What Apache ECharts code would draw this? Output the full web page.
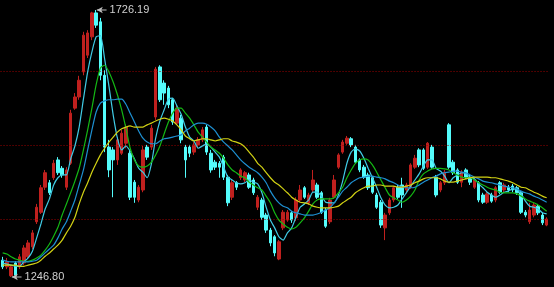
<!DOCTYPE html>
<html><head><meta charset="utf-8">
<script src="https://cdn.jsdelivr.net/npm/echarts@6/dist/echarts.min.js"></script>
<style>html,body{margin:0;padding:0;background:#000;}#c{width:554px;height:287px;}</style>
</head><body><div id="c"></div>
<script>
const openP  = [1277,1265,1249,1272,1265,1272,1283,1301,1346,1363,1408,1416,1425,1457,1442,1408,1451,1550,1570,1615,1645,1678,1721,1705,1609,1480,1475,1457,1469,1487,1469,1417,1385,1403,1480,1480,1534,1624,1595,1586,1565,1523,1532,1480,1480,1471,1484,1493,1516,1469,1453,1451,1462,1426,1390,1416,1425,1421,1430,1421,1372,1385,1358,1331,1319,1279,1335,1349,1362,1353,1385,1407,1380,1403,1412,1398,1367,1346,1390,1444,1471,1487,1495,1480,1457,1444,1430,1425,1394,1381,1335,1362,1385,1408,1412,1403,1408,1444,1475,1475,1444,1480,1426,1403,1416,1520,1453,1439,1417,1439,1426,1408,1416,1394,1381,1394,1385,1416,1403,1408,1410,1407,1398,1363,1346,1358,1374,1358,1340];
const closeP = [1265,1274,1265,1250,1283,1299,1308,1326,1372,1407,1434,1398,1451,1434,1430,1439,1541,1570,1600,1681,1685,1721,1699,1609,1480,1439,1457,1493,1505,1516,1390,1390,1408,1475,1462,1514,1620,1565,1577,1556,1525,1550,1493,1457,1469,1484,1493,1511,1471,1439,1444,1444,1426,1380,1416,1408,1439,1434,1408,1398,1390,1354,1331,1308,1290,1310,1363,1363,1349,1385,1403,1390,1394,1421,1390,1363,1338,1385,1421,1466,1489,1496,1484,1453,1439,1426,1407,1399,1372,1340,1358,1385,1407,1390,1394,1412,1448,1460,1448,1442,1487,1444,1394,1416,1435,1444,1434,1417,1435,1426,1417,1421,1385,1381,1396,1383,1407,1399,1412,1403,1403,1398,1363,1358,1367,1376,1362,1344,1351];
const lowP   = [1261,1261,1246.80,1249,1261,1268,1279,1297,1342,1360,1403,1394,1421,1430,1425,1403,1448,1547,1565,1609,1640,1672,1694,1600,1471,1426,1390,1448,1466,1478,1385,1380,1381,1399,1457,1475,1529,1561,1556,1550,1520,1520,1487,1425,1462,1466,1478,1489,1466,1434,1439,1425,1421,1374,1385,1403,1421,1417,1405,1394,1367,1349,1326,1302,1284,1277,1331,1346,1344,1347,1381,1387,1376,1399,1387,1360,1335,1342,1387,1441,1468,1484,1480,1450,1435,1423,1403,1396,1369,1335,1313,1358,1381,1387,1371,1399,1405,1441,1444,1439,1441,1441,1390,1399,1412,1441,1430,1414,1408,1423,1412,1405,1381,1378,1378,1380,1381,1396,1399,1399,1399,1394,1360,1354,1342,1354,1358,1340,1338];
const highP  = [1283,1281,1268,1275,1288,1304,1313,1331,1378,1412,1439,1421,1457,1462,1446,1444,1547,1577,1608,1687,1690,1723,1726.19,1712,1618,1493,1480,1498,1511,1521,1475,1421,1412,1482,1484,1520,1624,1627,1600,1590,1568,1556,1538,1484,1484,1489,1498,1516,1520,1475,1457,1455,1466,1430,1421,1419,1442,1437,1434,1425,1394,1389,1362,1335,1322,1313,1367,1367,1365,1390,1412,1410,1398,1439,1416,1401,1371,1389,1430,1469,1493,1500,1498,1484,1460,1448,1434,1428,1398,1385,1362,1389,1410,1412,1425,1416,1451,1466,1478,1478,1489,1484,1430,1419,1439,1523,1457,1442,1439,1442,1430,1425,1419,1398,1399,1398,1410,1419,1416,1412,1414,1410,1401,1367,1380,1380,1378,1362,1354];
const ma5  = [1272,1270,1268,1266,1266,1274,1281,1293,1317,1342,1369,1387,1412,1425,1430,1430,1459,1482,1516,1566,1615,1651,1678,1680,1638,1590,1538,1496,1475,1482,1473,1459,1442,1435,1425,1450,1496,1527,1547,1566,1568,1554,1539,1516,1498,1491,1478,1482,1486,1480,1471,1462,1444,1426,1421,1416,1414,1416,1421,1417,1414,1398,1372,1349,1335,1319,1313,1326,1335,1354,1372,1378,1385,1399,1399,1392,1381,1380,1380,1394,1419,1451,1471,1477,1473,1460,1442,1425,1408,1389,1376,1371,1372,1376,1387,1398,1410,1421,1432,1446,1457,1457,1442,1437,1428,1416,1425,1430,1434,1432,1426,1423,1414,1407,1399,1394,1390,1394,1399,1401,1405,1403,1396,1383,1374,1372,1369,1362,1360];
const ma10 = [1290,1288,1283,1279,1277,1275,1275,1277,1281,1286,1295,1306,1320,1336,1358,1378,1398,1419,1442,1475,1511,1550,1592,1622,1627,1615,1597,1574,1547,1514,1478,1457,1446,1444,1446,1453,1466,1482,1504,1525,1541,1550,1550,1541,1532,1520,1507,1498,1489,1480,1475,1469,1460,1448,1439,1434,1428,1425,1417,1412,1407,1403,1392,1380,1362,1349,1342,1336,1333,1336,1344,1353,1365,1378,1385,1387,1387,1387,1389,1398,1408,1425,1439,1451,1457,1459,1457,1448,1435,1421,1407,1394,1389,1385,1381,1385,1392,1403,1421,1432,1437,1441,1442,1442,1441,1439,1434,1430,1426,1425,1425,1421,1416,1412,1408,1405,1403,1399,1398,1398,1398,1396,1392,1387,1383,1380,1376,1371,1365];
const ma20 = [1277,1275,1274,1274,1274,1274,1274,1275,1277,1283,1290,1297,1304,1317,1333,1346,1365,1385,1412,1439,1475,1511,1543,1559,1563,1565,1565,1566,1566,1557,1541,1525,1509,1496,1489,1486,1486,1491,1495,1496,1498,1500,1502,1509,1514,1520,1523,1523,1521,1516,1509,1498,1489,1482,1475,1466,1457,1450,1444,1439,1434,1426,1416,1401,1389,1380,1374,1371,1365,1362,1360,1358,1358,1358,1360,1363,1367,1371,1380,1390,1401,1408,1416,1421,1425,1426,1428,1428,1426,1425,1423,1419,1416,1412,1408,1407,1407,1408,1412,1417,1421,1425,1428,1432,1434,1435,1437,1437,1435,1434,1430,1426,1423,1419,1417,1416,1414,1412,1410,1408,1407,1405,1401,1398,1396,1392,1389,1385,1381];
const ma30 = [1268,1268,1268,1268,1266,1266,1268,1270,1272,1277,1284,1290,1297,1304,1313,1326,1338,1354,1378,1399,1416,1435,1451,1466,1478,1489,1498,1507,1513,1516,1518,1516,1516,1516,1520,1523,1527,1530,1532,1530,1527,1520,1511,1500,1495,1491,1493,1495,1495,1493,1491,1493,1495,1495,1491,1489,1486,1480,1471,1462,1451,1444,1434,1425,1417,1412,1405,1398,1390,1385,1381,1380,1378,1374,1372,1371,1371,1371,1372,1374,1380,1385,1390,1398,1403,1407,1410,1410,1412,1412,1410,1410,1410,1408,1408,1410,1412,1416,1419,1423,1425,1425,1425,1423,1419,1417,1417,1419,1421,1423,1425,1426,1426,1426,1426,1425,1425,1423,1421,1419,1416,1412,1408,1407,1403,1399,1396,1392,1389];
const gridLevels = [1350.03, 1482.90, 1615.77];
const extremes = [{index: 22, value: 1726.19}, {index: 2, value: 1246.80}];

const categories = openP.map((_, i) => String(i + 1));
const candles = openP.map((o, i) => [o, closeP[i], lowP[i], highP[i]]);

const chart = echarts.init(document.getElementById('c'), null, {renderer: 'canvas'});
const annoSeries = extremes.map(e => ({
  type: 'line', xAxisIndex: 1, yAxisIndex: 0, silent: true, z: 10,
  lineStyle: {color: '#bdbdbd', width: 1},
  itemStyle: {color: '#bdbdbd'},
  data: [
    {value: [e.index + 0.15, e.value], symbol: 'arrow', symbolSize: [5, 6], symbolRotate: 90},
    {value: [e.index + 2.45, e.value], symbol: 'circle', symbolSize: 0.01,
     label: {show: true, position: 'right', distance: 3, color: '#d0d0d0', fontSize: 11,
             fontFamily: 'Liberation Sans, Arial, sans-serif', formatter: () => e.value.toFixed(2)}}
  ],
  animation: false
}));

const maLine = (name, data, color) => ({
  name, type: 'line', data, symbol: 'none', smooth: 0.2, z: 5,
  lineStyle: {color, width: 1.2}, animation: false
});

chart.setOption({
  backgroundColor: '#000',
  animation: false,
  grid: {left: 0.54, right: 5.21, top: 0, bottom: 0},
  xAxis: [
    {type: 'category', data: categories, show: false, boundaryGap: true},
    {type: 'value', min: -0.5, max: categories.length - 0.5, show: false}
  ],
  yAxis: {type: 'value', min: 1228.83, max: 1744.14, show: false, splitLine: {show: false}},
  series: [
    {
      type: 'candlestick', data: candles, barWidth: 3,
      itemStyle: {color: '#c0201e', borderColor: '#c0201e', color0: '#54fcfc', borderColor0: '#54fcfc', borderWidth: 1},
      markLine: {
        silent: true, symbol: 'none', label: {show: false},
        lineStyle: {color: '#990000', type: [1, 2], width: 1, opacity: 1},
        data: gridLevels.map(v => ({yAxis: v}))
      }
    },
    maLine('MA5', ma5, '#40cce6'),
    maLine('MA10', ma10, '#14b814'),
    maLine('MA20', ma20, '#1e90d2'),
    maLine('MA30', ma30, '#d2d214'),
    ...annoSeries
  ]
});
</script></body></html>
